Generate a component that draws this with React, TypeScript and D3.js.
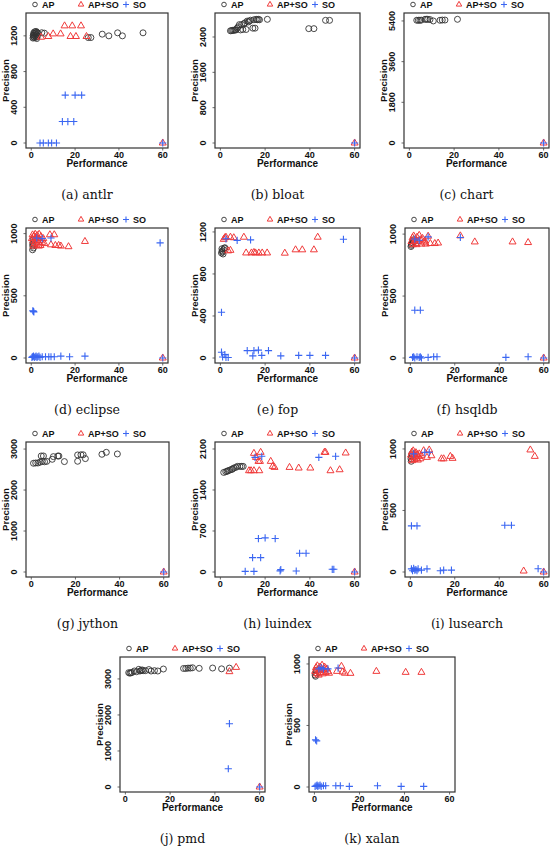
import React from "react";
import * as d3 from "d3";

type P = [number, number];

// ---------- data ----------
const antlrAP: P[] = [[0.8,1175],[1,1190],[1.2,1210],[1.4,1180],[1.6,1225],[1.8,1200],[2,1235],[2.2,1185],[2.4,1215],[2.6,1240],[2.8,1195],[3,1230],[1.5,1245],[2.2,1250],[0.9,1205],[1.1,1230],[2.5,1170],[4.8,1235],[6,1230],[26,1181],[27.2,1181],[32.4,1219],[35.4,1200],[39.4,1234],[41.6,1200],[51,1234]];
const antlrAPSO: P[] = [[4.5,1185],[7.8,1193],[10,1222],[13.4,1222],[15.2,1312],[18.7,1312],[22.7,1312],[17.9,1193],[20.4,1193],[25.2,1193],[60,0]];
const antlrSO: P[] = [[15.5,536],[20,536],[23,536],[14.2,240],[16.7,240],[19.4,240],[4,0],[5.5,0],[7.8,0],[9.3,0],[11.5,0],[60,0]];

const bloatAP: P[] = [[4.5,2540],[5,2545],[5.5,2550],[6,2550],[6.5,2560],[7,2560],[7.5,2600],[8,2630],[8.5,2680],[9,2560],[9.5,2680],[10,2570],[10.5,2700],[11,2720],[11.5,2570],[12,2760],[12.5,2740],[13,2760],[13.5,2780],[14.5,2600],[15,2790],[15.5,2600],[16,2800],[16.5,2790],[17,2800],[17.5,2790],[21,2800],[39.5,2589],[41.8,2589],[47,2777],[48.8,2777]];
const bloatAPSO: P[] = [[60,0]];
const bloatSO: P[] = [[60,0]];

const chartAP: P[] = [[3.3,5430],[4,5430],[4.7,5430],[5.3,5435],[7,5472],[7.6,5472],[8.2,5472],[9.2,5460],[10.7,5400],[13.7,5430],[14.7,5440],[15.9,5440],[21.5,5472]];
const chartAPSO: P[] = [[60,0]];
const chartSO: P[] = [[60,0]];

const eclipseAP: P[] = [[0.6,870],[0.7,900],[0.8,930],[0.9,950],[0.7,915],[1,885]];
const eclipseAPSO: P[] = [[0.3,960],[0.6,990],[0.9,940],[1.2,980],[1.5,920],[1.8,995],[2.1,950],[2.4,910],[2.7,985],[3,960],[3.3,930],[3.6,995],[3.9,945],[4.2,905],[4.5,975],[5,930],[5.5,960],[6,920],[1,900],[2,970],[3.5,900],[8.5,991],[10.5,991],[9,910],[11,905],[12.5,905],[13.5,900],[17,895],[24.5,937],[60,0]];
const eclipseSO: P[] = [[1,375],[0.7,380],[1.2,370],[0.3,5],[0.6,10],[1,15],[1.4,5],[1.8,10],[2.2,15],[2.6,5],[3,10],[3.5,15],[4,5],[5,10],[6.5,10],[8,10],[9,10],[10.5,10],[13.5,15],[17.5,10],[24.5,15],[2.5,965],[5,960],[9,965],[58.8,926],[60,0]];

const fopAP: P[] = [[0.5,1000],[0.8,1020],[1,1010],[1.2,990],[1.5,1030],[1.8,1045],[2,1050],[0.7,1040]];
const fopAPSO: P[] = [[1.5,1130],[2,1145],[2.5,1150],[4.5,1150],[6,1145],[10.5,1150],[43.5,1150],[3.5,1020],[4.5,1025],[11.5,1000],[13.9,1000],[15,1005],[15.7,1000],[17.2,1000],[18.7,1000],[20.9,1000],[28.8,998],[33.6,1030],[36.6,1030],[41.8,1030],[60,0]];
const fopSO: P[] = [[2.5,1135],[7.5,1120],[13.5,1125],[55,1130],[0.5,435],[0.5,55],[1,10],[2,32],[2.5,5],[3.5,5],[12,70],[14.5,20],[15,70],[17,75],[18.5,25],[21.5,70],[27,20],[35,25],[40,25],[47,25],[60,0]];

const hsqldbAP: P[] = [[0.3,900],[0.6,920],[0.9,930],[1.2,945],[1.5,955],[1.8,940],[0.5,910]];
const hsqldbAPSO: P[] = [[0.5,940],[1,970],[1.5,985],[2,950],[2.5,925],[3,975],[3.5,940],[4,990],[4.5,955],[5,920],[5.5,965],[6,935],[6.5,945],[7,920],[1.2,915],[2.8,915],[8,983],[9,924],[11,924],[12.5,928],[22.5,986],[29,937],[46,937],[53,932],[60,0]];
const hsqldbSO: P[] = [[2,960],[4,950],[8,978],[22.5,973],[2,386],[4.5,386],[1,5],[1.5,10],[2,0],[3,10],[4,5],[4.5,10],[5,0],[8,5],[10.5,10],[12,10],[43,5],[53,10],[60,0]];

const jythonAP: P[] = [[1,2653],[2,2660],[3,2660],[4,2680],[4.5,2831],[5,2700],[5.5,2831],[6,2690],[7,2700],[9.5,2750],[10,2815],[12,2830],[12.5,2830],[15,2694],[21,2856],[21,2702],[22.5,2860],[23.5,2860],[24.5,2767],[32,2872],[34,2920],[39,2880]];
const jythonAPSO: P[] = [[60,0]];
const jythonSO: P[] = [[60,0]];

const luindexAP: P[] = [[1.5,1700],[2.4,1712],[3,1720],[3.5,1729],[4.2,1740],[5,1750],[5.4,1758],[6,1775],[6.9,1786],[7.6,1803],[8.7,1803],[9.5,1803],[10.2,1803]];
const luindexAPSO: P[] = [[15,2026],[18,2043],[15.9,1957],[17,1889],[17.7,1889],[12.8,1729],[13.7,1729],[15,1729],[17.4,1729],[22.5,1889],[23.4,1803],[24.2,1786],[30.9,1786],[35,1775],[40.2,1775],[46.5,2043],[47,2043],[49.2,1729],[53.3,1746],[56,2032],[60,0]];
const luindexSO: P[] = [[15.5,1957],[18.5,1975],[44,1957],[51.5,1975],[17,571],[20,582],[24.5,571],[14.4,245],[18,245],[35.4,320],[38.3,320],[11.1,11],[15,11],[27,40],[26.7,20],[33.9,17],[50,46],[50.7,46],[60,0]];

const lusearchAP: P[] = [[0.3,920],[0.5,940],[0.7,960],[0.4,900]];
const lusearchAPSO: P[] = [[0.3,950],[0.7,975],[1,930],[1.3,985],[1.6,960],[1.9,915],[2.2,945],[2.5,970],[2.8,925],[3.1,955],[3.4,910],[3.7,940],[4,960],[4.5,920],[5,945],[0.8,905],[6,986],[7.5,932],[8.5,992],[9.5,945],[14,920],[15,920],[18,940],[19,924],[54,992],[56,940],[51,8],[60,0]];
const lusearchSO: P[] = [[1.5,960],[6.5,973],[8.5,973],[0.5,375],[3,375],[42.5,380],[45.5,380],[0.5,25],[1,10],[1.5,30],[2,15],[2.5,20],[3,10],[3.5,25],[5,15],[7.5,25],[13.5,10],[15,15],[18.5,15],[57.5,27],[60,0]];

const pmdAP: P[] = [[1.5,3174],[2,3160],[2.5,3170],[3,3180],[4,3220],[5,3200],[6,3266],[6.5,3220],[7,3230],[7.5,3250],[8,3230],[9,3230],[10.5,3260],[11.5,3220],[13,3230],[14.5,3220],[17,3275],[26,3290],[27,3290],[28,3300],[29,3300],[30,3310],[33,3294],[39,3303],[43,3280],[46.5,3300]];
const pmdAPSO: P[] = [[46.5,3202],[49.5,3321],[60,0]];
const pmdSO: P[] = [[46.5,1757],[46,506],[60,0]];

const xalanAP: P[] = [[0.3,910],[0.6,930],[0.9,950],[0.5,900]];
const xalanAPSO: P[] = [[0.3,940],[0.7,970],[1,920],[1.3,985],[1.6,955],[1.9,910],[2.2,945],[2.5,975],[2.8,930],[3.1,960],[3.4,990],[3.7,920],[4,950],[4.5,975],[5,930],[5.5,960],[6,940],[6.5,925],[10,940],[12,981],[12.5,935],[13.5,925],[16,924],[27.5,940],[40.5,932],[47.5,932]];
const xalanSO: P[] = [[2,960],[3,970],[4,960],[6,960],[10.5,967],[0.5,383],[1,375],[0.3,5],[0.8,10],[1.2,15],[1.5,5],[2,10],[2.5,15],[3,5],[4,10],[5,10],[9.5,10],[11.5,10],[15.5,5],[28,10],[38.5,5],[48.5,5]];

const captions = ["(a) antlr","(b) bloat","(c) chart","(d) eclipse","(e) fop","(f) hsqldb","(g) jython","(h) luindex","(i) lusearch","(j) pmd","(k) xalan"];
const apSeries = [antlrAP, bloatAP, chartAP, eclipseAP, fopAP, hsqldbAP, jythonAP, luindexAP, lusearchAP, pmdAP, xalanAP];
const apsoSeries = [antlrAPSO, bloatAPSO, chartAPSO, eclipseAPSO, fopAPSO, hsqldbAPSO, jythonAPSO, luindexAPSO, lusearchAPSO, pmdAPSO, xalanAPSO];
const soSeries = [antlrSO, bloatSO, chartSO, eclipseSO, fopSO, hsqldbSO, jythonSO, luindexSO, lusearchSO, pmdSO, xalanSO];
const yMaxes = [1400, 2830, 5530, 1005, 1190, 1009, 3050, 2134, 1016, 3470, 1016];
const yTickSets = [
  [0,400,800,1200],[0,800,1600,2400],[0,1800,3600,5400],
  [0,500,1000],[0,400,800,1200],[0,500,1000],
  [0,1000,2000,3000],[0,700,1400,2100],[0,500,1000],
  [0,1000,2000,3000],[0,500,1000]
];
const xTicks = [0, 20, 40, 60];
const legendLabels = ["AP", "AP+SO", "SO"];

// ---------- layout ----------
const boxLefts = [26, 215, 404, 26, 215, 405, 26, 215, 405, 120, 309];
const boxWidths = [142, 145, 145, 142, 145, 144, 143, 145, 144, 145, 146];
const boxTops = [13, 13, 13, 228, 228, 228, 442, 442, 442, 657, 657];
const BOX_H = 135;

const COL_AP = "#333333";
const COL_APSO = "#f03a3a";
const COL_SO = "#3a66f2";
const SANS = "'Liberation Sans', Arial, Helvetica, sans-serif";
const SERIF = "'DejaVu Serif', 'Liberation Serif', serif";

const triPath = d3.symbol().type(d3.symbolTriangle).size(21)() as string;
const triPathSmall = d3.symbol().type(d3.symbolTriangle).size(13)() as string;
const plusPath = (a: number) => `M${-a},0H${a}M0,${-a}V${a}`;

function Panel({ i }: { i: number }) {
  const left = boxLefts[i];
  const top = boxTops[i];
  const W = boxWidths[i];
  const M = yMaxes[i];
  const x = d3.scaleLinear().domain([-2.4, 62.4]).range([left, left + W]);
  const y = d3.scaleLinear().domain([-0.04 * M, 1.04 * M]).range([top + BOX_H, top]);
  const bottom = top + BOX_H;
  const ly = top - 8.5;
  return (
    <g>
      {/* legend */}
      <g fontFamily={SANS} fontWeight="bold" fontSize={9} fill="#111">
        <circle cx={left + 9} cy={ly} r={2.3} fill="none" stroke={COL_AP} strokeWidth={0.9} />
        <text x={left + 16} y={ly + 3.2}>{legendLabels[0]}</text>
        <path d={triPathSmall} transform={`translate(${left + 55},${ly})`} fill="none" stroke={COL_APSO} strokeWidth={1} />
        <text x={left + 62} y={ly + 3.2}>{legendLabels[1]}</text>
        <path d={plusPath(3)} transform={`translate(${left + 100},${ly})`} stroke={COL_SO} strokeWidth={1.1} />
        <text x={left + 107} y={ly + 3.2}>{legendLabels[2]}</text>
      </g>
      {/* points */}
      {apSeries[i].map((d, k) => (
        <circle key={"a" + k} cx={x(d[0])} cy={y(d[1])} r={3} fill="none" stroke={COL_AP} strokeWidth={0.9} />
      ))}
      {apsoSeries[i].map((d, k) => (
        <path key={"t" + k} d={triPath} transform={`translate(${x(d[0])},${y(d[1])})`} fill="none" stroke={COL_APSO} strokeWidth={1} />
      ))}
      {soSeries[i].map((d, k) => (
        <path key={"s" + k} d={plusPath(3.6)} transform={`translate(${x(d[0])},${y(d[1])})`} stroke={COL_SO} strokeWidth={1.1} />
      ))}
      {/* box */}
      <rect x={left} y={top} width={W} height={BOX_H} fill="none" stroke="#333" strokeWidth={1.2} />
      {/* axes */}
      <g fontFamily={SANS} fontWeight="bold" fontSize={9} fill="#111">
        {xTicks.map((t) => (
          <g key={"x" + t}>
            <line x1={x(t)} x2={x(t)} y1={bottom} y2={bottom + 2.5} stroke="#444" strokeWidth={0.8} />
            <text x={x(t)} y={bottom + 9.5} textAnchor="middle">{t}</text>
          </g>
        ))}
        {yTickSets[i].map((t) => (
          <g key={"y" + t}>
            <line x1={left - 2.5} x2={left} y1={y(t)} y2={y(t)} stroke="#444" strokeWidth={0.8} />
            <text transform={`translate(${left - 9},${y(t)}) rotate(-90)`} textAnchor="middle">{t}</text>
          </g>
        ))}
      </g>
      <text x={left + W / 2} y={bottom + 19} textAnchor="middle" fontFamily={SANS} fontWeight="bold" fontSize={10} fill="#111">Performance</text>
      <text transform={`translate(${left - 17},${top + BOX_H / 2}) rotate(-90)`} textAnchor="middle" fontFamily={SANS} fontWeight="bold" fontSize={9.5} fill="#111">Precision</text>
      <text x={left + W / 2 - 10} y={bottom + 51} textAnchor="middle" fontFamily={SERIF} fontSize={12.5} fill="#111">{captions[i]}</text>
    </g>
  );
}

export default function App() {
  return (
    <svg width={550} height={847} viewBox="0 0 550 847" style={{ position: "absolute", left: 0, top: 0, background: "#fff" }}>
      <rect x={0} y={0} width={550} height={847} fill="#fff" />
      {captions.map((_, i) => (
        <Panel key={i} i={i} />
      ))}
    </svg>
  );
}
